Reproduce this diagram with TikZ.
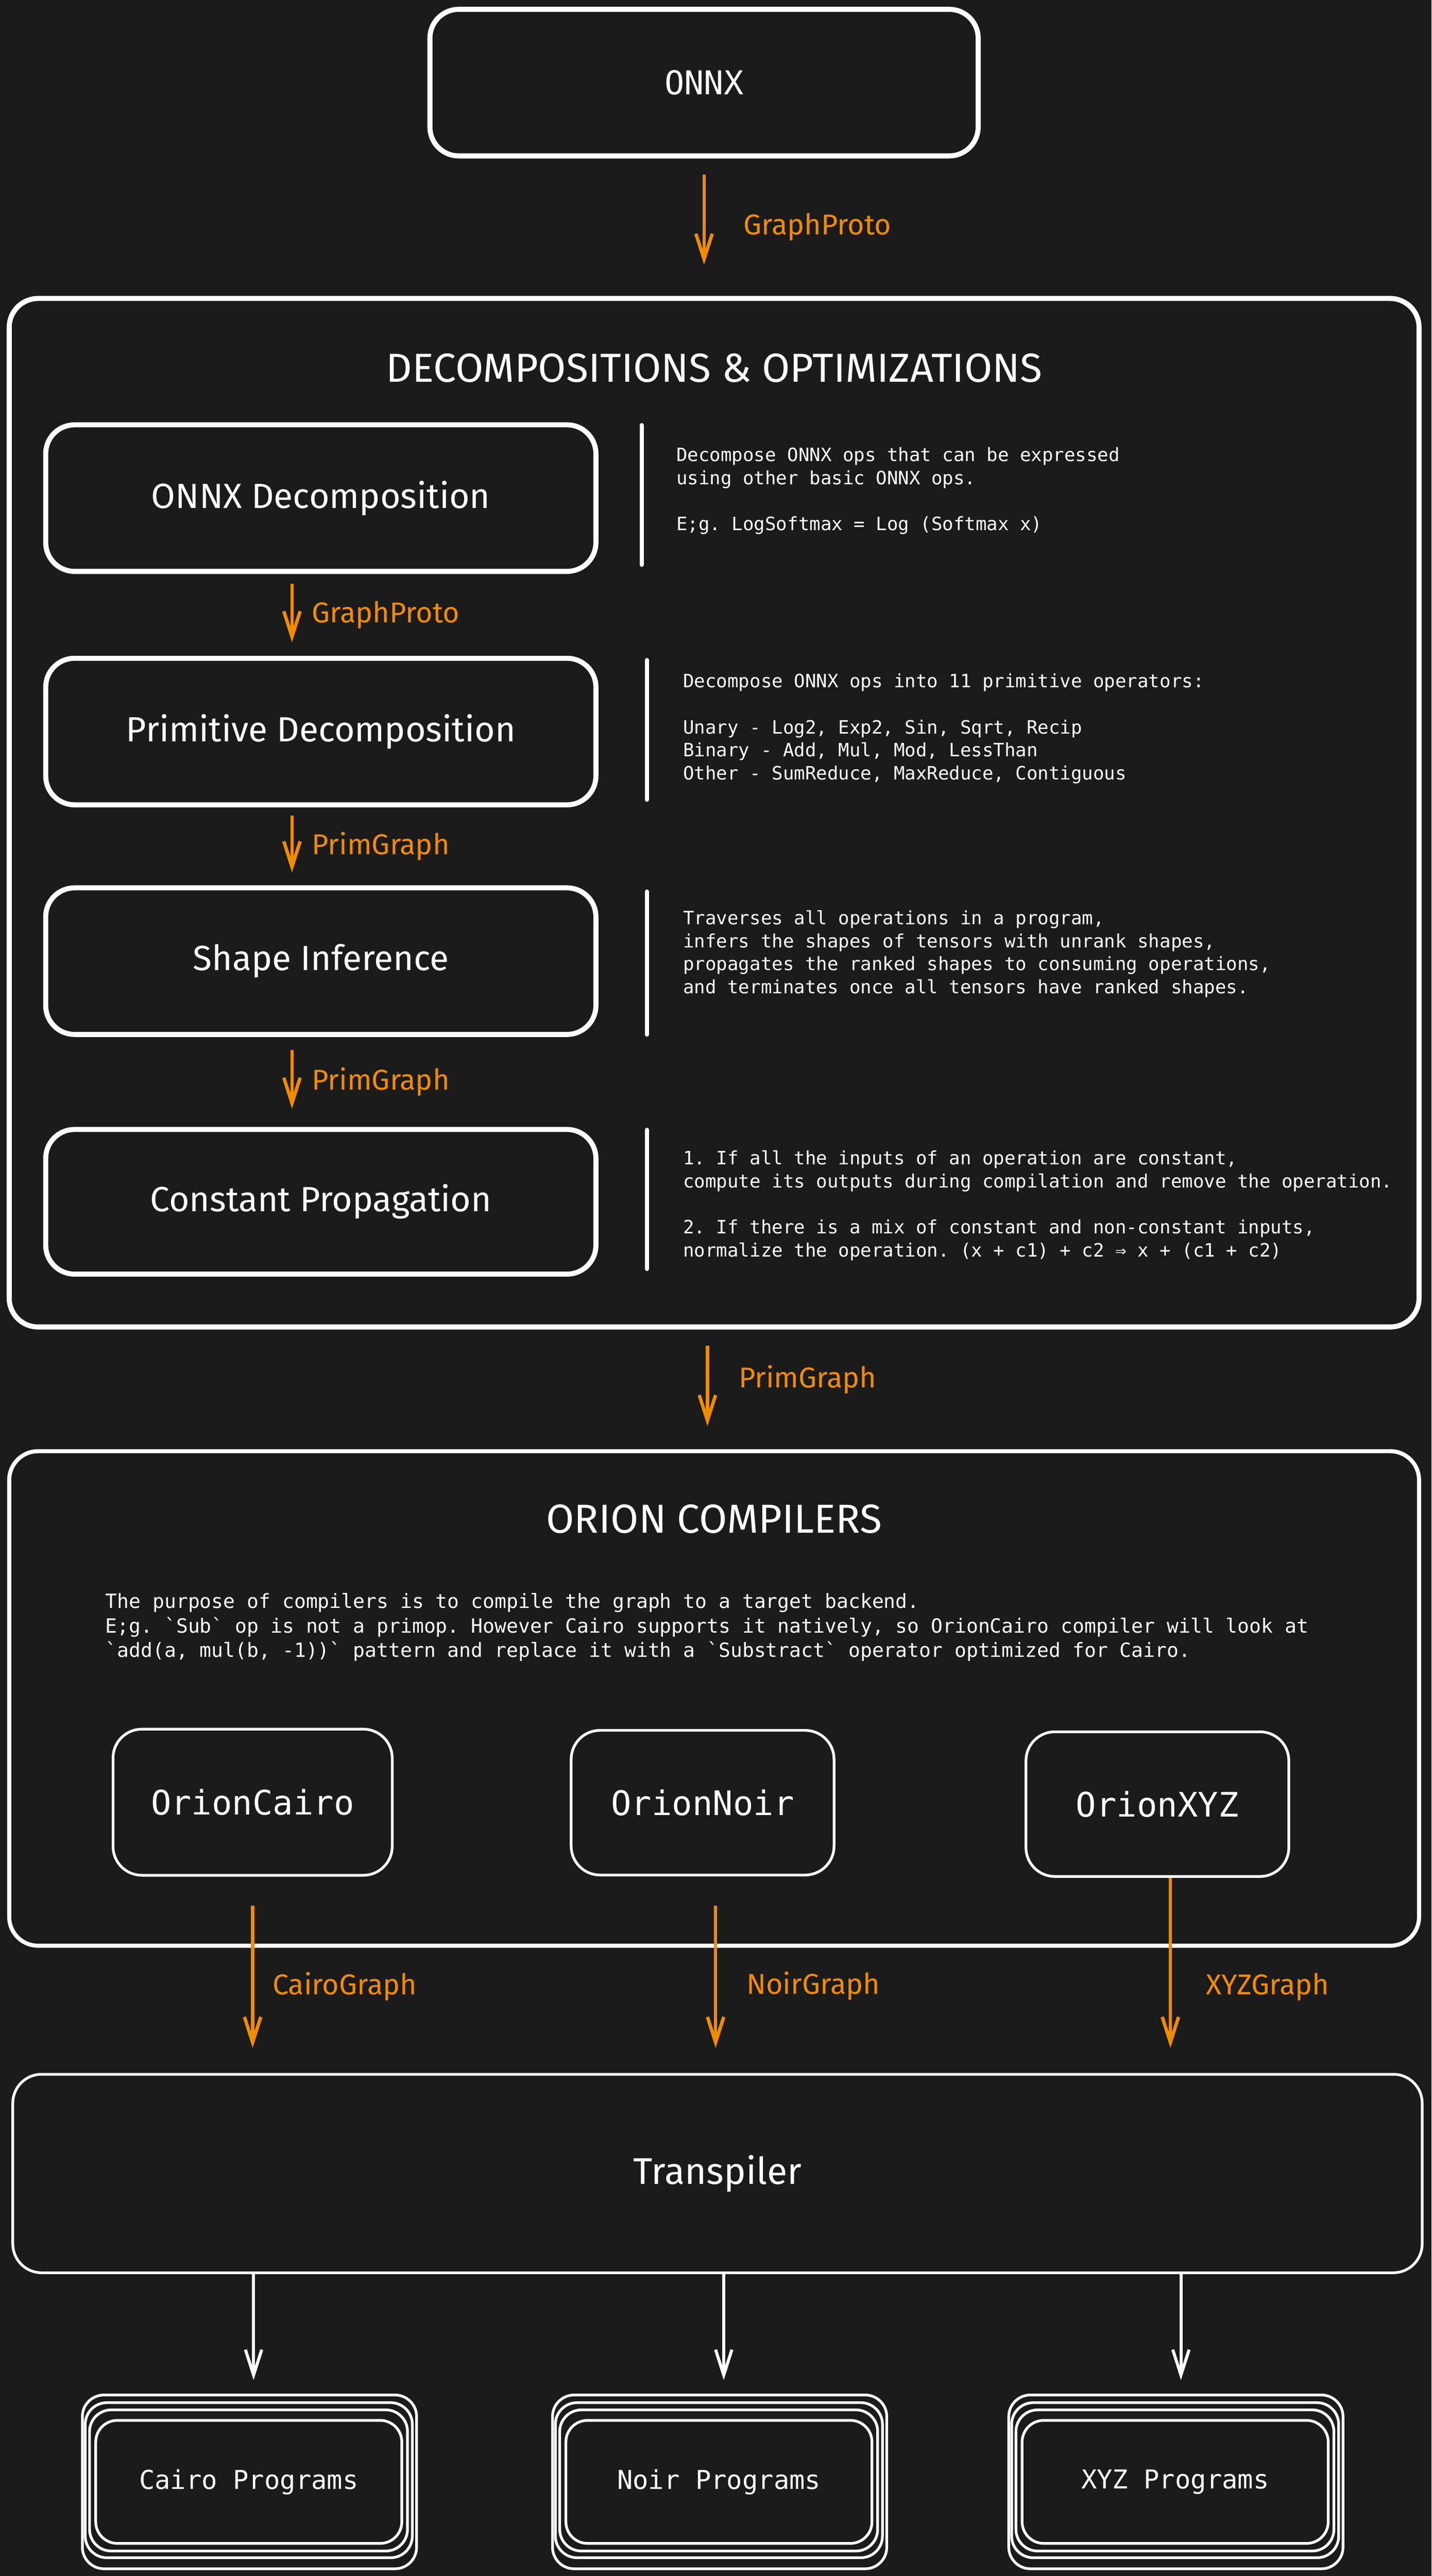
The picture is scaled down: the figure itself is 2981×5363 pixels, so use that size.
\documentclass[tikz,border=0pt]{standalone}
\usepackage{fontspec}
\setmonofont{DejaVu Sans Mono}
\newfontfamily\handfont{Fira Sans}
\usetikzlibrary{arrows.meta}
\definecolor{canvas}{HTML}{1B1B1B}
\definecolor{flow}{HTML}{F08C00}

\begin{document}
\begin{tikzpicture}[x=0.01cm, y=-0.01cm,
    box/.style={draw=white, line width=3pt, rounded corners=0.6cm, fill=canvas, inner sep=0pt},
    thinbox/.style={draw=white, line width=1.6pt, rounded corners=0.6cm, fill=canvas, inner sep=0pt},
    layer/.style={draw=white, line width=1.6pt, rounded corners=0.45cm},
    hand/.style={text=white, font=\handfont\fontsize{20.7}{24}\selectfont},
    title/.style={text=white, font=\handfont\fontsize{24}{28}\selectfont},
    code/.style={text=white, font=\ttfamily\fontsize{10.9}{13.66}\selectfont, align=left, anchor=west, inner sep=0pt},
    edge/.style={draw=flow, line width=2pt, -{Straight Barb[length=0.53cm, width=0.34cm]}},
    wedge/.style={draw=white, line width=1.8pt, -{Straight Barb[length=0.53cm, width=0.34cm]}},
    edgelabel/.style={text=flow, font=\handfont\fontsize{17}{20}\selectfont, anchor=west, inner sep=0pt},
    bar/.style={draw=white, line width=2.4pt, line cap=round}]

    \fill[canvas] (0,0) rectangle (2981,5363);

    % source
    \node[box, minimum width=11.41cm, minimum height=3.05cm, text=white,
        font=\ttfamily\fontsize{19.4}{23}\selectfont] (onnx) at (1466,172) {ONNX};

    % decompositions frame
    \node[box, minimum width=29.34cm, minimum height=21.40cm] (decomp) at (1487,1692) {};
    \node[title] (decomptitle) at (1487,766) {DECOMPOSITIONS \& OPTIMIZATIONS};

    \node[box, hand, minimum width=11.45cm, minimum height=3.05cm] (onnxdec) at (668,1037) {ONNX Decomposition};
    \node[box, hand, minimum width=11.45cm, minimum height=3.05cm] (primdec) at (668,1523) {Primitive Decomposition};
    \node[box, hand, minimum width=11.45cm, minimum height=3.05cm] (shapeinf) at (668,2001) {Shape Inference};
    \node[box, hand, minimum width=11.45cm, minimum height=3.01cm] (constprop) at (668,2502) {Constant Propagation};

    \draw[bar] (1336,885) -- (1336,1176);
    \draw[bar] (1347,1374) -- (1347,1665);
    \draw[bar] (1347,1856) -- (1347,2154);
    \draw[bar] (1347,2352) -- (1347,2642);

    \node[code] (onnxdecnote) at (1408,1022) {Decompose ONNX ops that can be expressed\\using other basic ONNX ops.\\[13.66pt]E;g. LogSoftmax = Log (Softmax x)};
    \node[code] (primdecnote) at (1422,1517) {Decompose ONNX ops into 11 primitive operators:\\[13.66pt]Unary - Log2, Exp2, Sin, Sqrt, Recip\\Binary - Add, Mul, Mod, LessThan\\Other - SumReduce, MaxReduce, Contiguous};
    \node[code] (shapeinfnote) at (1422,1986) {Traverses all operations in a program,\\infers the shapes of tensors with unrank shapes,\\propagates the ranked shapes to consuming operations,\\and terminates once all tensors have ranked shapes.};
    \node[code] (constpropnote) at (1422,2510) {1. If all the inputs of an operation are constant,\\compute its outputs during compilation and remove the operation.\\[13.66pt]2. If there is a mix of constant and non-constant inputs,\\normalize the operation. (x + c1) + c2 ⇒ x + (c1 + c2)};

    % compilers frame
    \node[box, line width=2.4pt, minimum width=29.34cm, minimum height=10.29cm] (compilers) at (1487,3536) {};
    \node[title] (compilerstitle) at (1487,3162) {ORION COMPILERS};
    \node[code, font=\ttfamily\fontsize{11.6}{14.5}\selectfont] (compilersnote) at (219,3388) {The purpose of compilers is to compile the graph to a target backend.\\E;g. `Sub` op is not a primop. However Cairo supports it natively, so OrionCairo compiler will look at\\`add(a, mul(b, -1))` pattern and replace it with a `Substract` operator optimized for Cairo.};

    \node[thinbox, text=white, font=\ttfamily\fontsize{20}{24}\selectfont, minimum width=5.81cm, minimum height=3.04cm] (orioncairo) at (526,3752) {OrionCairo};
    \node[thinbox, text=white, font=\ttfamily\fontsize{20}{24}\selectfont, minimum width=5.47cm, minimum height=3.01cm] (orionnoir) at (1463,3753) {OrionNoir};
    \node[thinbox, text=white, font=\ttfamily\fontsize{20}{24}\selectfont, minimum width=5.47cm, minimum height=3.01cm] (orionxyz) at (2410,3756) {OrionXYZ};

    % transpiler
    \node[thinbox, hand, font=\handfont\fontsize{22}{26}\selectfont, minimum width=29.33cm, minimum height=4.13cm] (transpiler) at (1494,4525) {Transpiler};

    % programs
    \node[thinbox, rounded corners=0.45cm, text=white, font=\ttfamily\fontsize{15.4}{18}\selectfont, minimum width=6.37cm, minimum height=2.56cm] (cairoprog) at (518,5167) {Cairo Programs};
    \node[thinbox, rounded corners=0.45cm, text=white, font=\ttfamily\fontsize{15.4}{18}\selectfont, minimum width=6.37cm, minimum height=2.56cm] (noirprog) at (1497,5167) {Noir Programs};
    \node[thinbox, rounded corners=0.45cm, text=white, font=\ttfamily\fontsize{15.4}{18}\selectfont, minimum width=6.37cm, minimum height=2.56cm] (xyzprog) at (2447,5167) {XYZ Programs};
    \foreach \n in {cairoprog, noirprog, xyzprog}
        \foreach \l/\t/\r/\b in {0.10cm/0.19cm/0.09cm/0.13cm, 0.19cm/0.34cm/0.19cm/0.27cm, 0.25cm/0.50cm/0.28cm/0.50cm}
            \draw[layer] ([shift={(-\l,\t)}]\n.north west) rectangle ([shift={(\r,-\b)}]\n.south east);

    % flow
    \draw[edge, shorten <=0.34cm, shorten >=0.65cm] (onnx.south) -- (onnx.south |- decomp.north)
        node[edgelabel, midway, right=0.79cm] (protolabel) {GraphProto};
    \draw[edge, shorten <=0.2cm, shorten >=0.28cm] ([xshift=-0.6cm]onnxdec.south) -- ([xshift=-0.6cm]primdec.north)
        node[edgelabel, midway, right=0.38cm] (onnxdeclabel) {GraphProto};
    \draw[edge, shorten <=0.17cm, shorten >=0.27cm] ([xshift=-0.6cm]primdec.south) -- ([xshift=-0.6cm]shapeinf.north)
        node[edgelabel, midway, right=0.38cm] (primdeclabel) {PrimGraph};
    \draw[edge, shorten <=0.27cm, shorten >=0.38cm] ([xshift=-0.6cm]shapeinf.south) -- ([xshift=-0.6cm]constprop.north)
        node[edgelabel, midway, right=0.38cm] (shapeinflabel) {PrimGraph};
    \draw[edge, shorten <=0.34cm, shorten >=0.48cm] ([xshift=-0.14cm]decomp.south) -- ([xshift=-0.14cm]compilers.north)
        node[edgelabel, midway, right=0.62cm, yshift=0.2cm] (decomplabel) {PrimGraph};

    \draw[edge, shorten <=0.61cm, shorten >=0.52cm] (orioncairo.south) -- (orioncairo.south |- transpiler.north)
        node[edgelabel, midway, right=0.38cm, yshift=-0.24cm] (cairolabel) {CairoGraph};
    \draw[edge, shorten <=0.61cm, shorten >=0.52cm] ([xshift=0.27cm]orionnoir.south) -- ([xshift=0.27cm]orionnoir.south |- transpiler.north)
        node[edgelabel, midway, right=0.61cm, yshift=-0.24cm] (noirlabel) {NoirGraph};
    \draw[edge, shorten >=0.52cm] ([xshift=0.27cm]orionxyz.south) -- ([xshift=0.27cm]orionxyz.south |- transpiler.north)
        node[edgelabel, midway, right=0.71cm, yshift=-0.24cm] (xyzlabel) {XYZGraph};

    \draw[wedge, shorten >=0.81cm] ([xshift=0.1cm]transpiler.south -| cairoprog.north) -- ([xshift=0.1cm]cairoprog.north);
    \draw[wedge, shorten >=0.81cm] ([xshift=0.1cm]transpiler.south -| noirprog.north) -- ([xshift=0.1cm]noirprog.north);
    \draw[wedge, shorten >=0.81cm] ([xshift=0.12cm]transpiler.south -| xyzprog.north) -- ([xshift=0.12cm]xyzprog.north);
\end{tikzpicture}
\end{document}
